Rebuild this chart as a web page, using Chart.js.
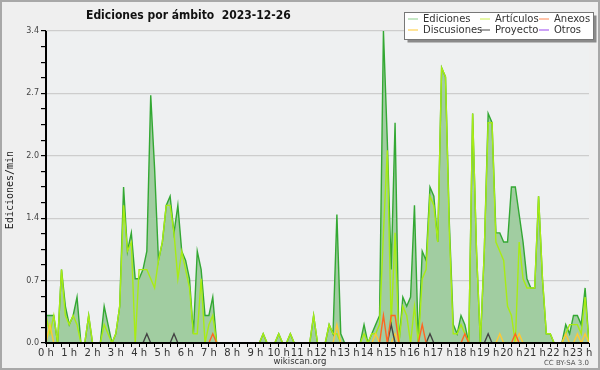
<!DOCTYPE html>
<html>
<head>
<meta charset="utf-8">
<script src="https://cdn.jsdelivr.net/npm/chart.js@4.4.1/dist/chart.umd.min.js"></script>
<style>
  html, body { margin: 0; padding: 0; background: #efefef; }
  canvas { display: block; }
</style>
</head>
<body>
<canvas id="chart" width="600" height="370"></canvas>
<script>
// Intervalos de 10 minutos, 00:00 -> 23:20 (141 puntos)
const ediciones = [
  0.3, 0.3, 0.3, 0, 0.8, 0.4, 0.2, 0.3, 0.5, 0, 0, 0.3,
  0, 0, 0, 0.4, 0.2, 0, 0.1, 0.4, 1.7, 1.0, 1.2, 0.7,
  0.7, 0.8, 1.0, 2.7, 1.9, 0.9, 1.1, 1.5, 1.6, 1.2, 1.5, 1.0,
  0.9, 0.7, 0.1, 1.0, 0.8, 0.3, 0.3, 0.5, 0, 0, 0, 0,
  0, 0, 0, 0, 0, 0, 0, 0, 0.1, 0, 0, 0,
  0.1, 0, 0, 0.1, 0, 0, 0, 0, 0, 0.3, 0, 0,
  0, 0.2, 0.1, 1.4, 0.1, 0, 0, 0, 0, 0, 0.2, 0,
  0.1, 0.2, 0.3, 3.4, 2.2, 0.8, 2.4, 0, 0.5, 0.4, 0.5, 1.5,
  0, 1.0, 0.9, 1.7, 1.6, 1.1, 3.0, 2.9, 1.3, 0.2, 0.1, 0.3,
  0.2, 0, 2.5, 1.0, 0, 1.0, 2.5, 2.4, 1.2, 1.2, 1.1, 1.1,
  1.7, 1.7, 1.4, 1.1, 0.7, 0.6, 0.6, 1.6, 0.7, 0.1, 0.1, 0,
  0, 0, 0.2, 0.1, 0.3, 0.3, 0.2, 0.6, 0
];

const articulos = [
  0.3, 0.1, 0.3, 0, 0.8, 0.3, 0.2, 0.3, 0.2, 0, 0, 0.3,
  0, 0, 0, 0.2, 0.1, 0, 0.1, 0.4, 1.5, 1.0, 1.1, 0,
  0.8, 0.8, 0.8, 0.7, 0.6, 0.9, 1.1, 1.5, 1.5, 1.2, 0.7, 1.0,
  0.8, 0.6, 0.1, 0.1, 0.7, 0, 0.2, 0.3, 0, 0, 0, 0,
  0, 0, 0, 0, 0, 0, 0, 0, 0.1, 0, 0, 0,
  0.1, 0, 0, 0.1, 0, 0, 0, 0, 0, 0.3, 0, 0,
  0, 0.2, 0.1, 0.1, 0, 0, 0, 0, 0, 0, 0.1, 0,
  0.1, 0.1, 0.2, 1.2, 2.1, 0.2, 1.2, 0, 0.4, 0.3, 0, 0.4,
  0, 0.7, 0.8, 1.6, 1.5, 1.1, 3.0, 2.9, 1.2, 0.1, 0.1, 0.2,
  0.1, 0, 2.5, 1.0, 0, 1.0, 2.4, 2.4, 1.1, 1.0, 0.9, 0.4,
  0.3, 0, 1.1, 0.7, 0.6, 0.6, 0.6, 1.6, 0.7, 0.1, 0.1, 0,
  0, 0, 0.1, 0.2, 0.2, 0.2, 0.1, 0.5, 0
];

const discusiones = [
  0, 0.2, 0, 0, 0, 0, 0, 0, 0, 0, 0, 0,
  0, 0, 0, 0, 0, 0, 0, 0, 0, 0, 0, 0,
  0, 0, 0, 0, 0, 0, 0, 0, 0, 0, 0, 0,
  0, 0, 0, 0, 0, 0, 0, 0, 0, 0, 0, 0,
  0, 0, 0, 0, 0, 0, 0, 0, 0, 0, 0, 0,
  0, 0, 0, 0, 0, 0, 0, 0, 0, 0, 0, 0,
  0, 0, 0, 0.2, 0, 0, 0, 0, 0, 0, 0, 0,
  0, 0.1, 0, 0, 0, 0, 0.1, 0, 0, 0, 0, 0,
  0, 0, 0, 0, 0, 0, 0, 0, 0, 0, 0, 0,
  0, 0, 0, 0, 0, 0, 0, 0, 0, 0.1, 0, 0,
  0, 0, 0.1, 0, 0, 0, 0, 0, 0, 0, 0, 0,
  0, 0, 0.1, 0, 0, 0.1, 0, 0.1, 0
];

const anexos = [
  0, 0, 0, 0, 0, 0, 0, 0, 0, 0, 0, 0,
  0, 0, 0, 0, 0, 0, 0, 0, 0, 0, 0, 0,
  0, 0, 0, 0, 0, 0, 0, 0, 0, 0, 0, 0,
  0, 0, 0, 0, 0, 0, 0, 0.1, 0, 0, 0, 0,
  0, 0, 0, 0, 0, 0, 0, 0, 0, 0, 0, 0,
  0, 0, 0, 0, 0, 0, 0, 0, 0, 0, 0, 0,
  0, 0, 0, 0, 0, 0, 0, 0, 0, 0, 0, 0,
  0, 0, 0, 0.3, 0, 0.3, 0.3, 0, 0, 0, 0, 0,
  0, 0.2, 0, 0, 0, 0, 0, 0, 0, 0, 0, 0,
  0.1, 0, 0, 0, 0, 0, 0, 0, 0, 0, 0, 0,
  0, 0.1, 0, 0, 0, 0, 0, 0, 0, 0, 0, 0,
  0, 0, 0, 0, 0, 0, 0, 0, 0
];

const proyecto = [
  0, 0, 0, 0, 0, 0, 0, 0, 0, 0, 0, 0,
  0, 0, 0, 0, 0, 0, 0, 0, 0, 0, 0, 0,
  0, 0, 0.1, 0, 0, 0, 0, 0, 0, 0.1, 0, 0,
  0, 0, 0, 0, 0, 0, 0, 0, 0, 0, 0, 0,
  0, 0, 0, 0, 0, 0, 0, 0, 0, 0, 0, 0,
  0, 0, 0, 0, 0, 0, 0, 0, 0, 0, 0, 0,
  0, 0, 0, 0, 0, 0, 0, 0, 0, 0, 0, 0,
  0, 0, 0, 0, 0, 0.2, 0, 0, 0, 0, 0, 0,
  0, 0, 0, 0.1, 0, 0, 0, 0, 0, 0, 0, 0,
  0, 0, 0, 0, 0, 0, 0.1, 0, 0, 0, 0, 0,
  0, 0, 0, 0, 0, 0, 0, 0, 0, 0, 0, 0,
  0, 0, 0, 0, 0, 0, 0, 0, 0
];

const otros = new Array(ediciones.length).fill(0);

// Ticks del eje Y: cada 0.17, etiqueta cada 0.68
const yMax = 3.4;
const yTickStep = 0.17;
const yLabelEvery = 4;

// Colores
const colors = {
  bg: '#efefef',
  plotBg: '#eef0f1',
  grid: '#cdcdcd',
  axis: '#000000',
  text: '#333333',
  edicionesLine: '#33a833',
  edicionesFill: '#a1cda1',
  edicionesLegend: '#8ccf8c',
  articulos: '#a8ec14',
  articulosLegend: '#ccf050',
  discusiones: '#ffc933',
  anexos: '#ff6622',
  anexosLegend: '#ff8855',
  proyecto: '#444444',
  otros: '#9944ee'
};

const toPoints = arr => arr.map((v, i) => ({ x: i, y: v }));

function lineSet(label, data, color, order) {
  return {
    label: label,
    data: toPoints(data),
    borderColor: color,
    backgroundColor: color,
    borderWidth: 1.4,
    pointRadius: 0,
    tension: 0,
    fill: false,
    order: order
  };
}

// Fondo del lienzo y del área de trazado
const backgroundPlugin = {
  id: 'bg',
  beforeDraw(chart) {
    const { ctx, chartArea: a } = chart;
    ctx.save();
    ctx.fillStyle = colors.bg;
    ctx.fillRect(0, 0, chart.width, chart.height);
    ctx.fillStyle = colors.plotBg;
    ctx.fillRect(a.left, a.top, a.right - a.left, a.bottom - a.top);
    ctx.restore();
  }
};

// Ejes, título, leyenda y pie
const decorPlugin = {
  id: 'decor',
  afterDatasetsDraw(chart) {
    const { ctx, chartArea: a } = chart;
    ctx.save();
    ctx.strokeStyle = colors.axis;
    ctx.lineWidth = 2;
    ctx.beginPath();
    ctx.moveTo(a.left, a.top);
    ctx.lineTo(a.left, a.bottom);
    ctx.lineTo(a.right, a.bottom);
    ctx.stroke();
    ctx.restore();
  },
  afterDraw(chart) {
    const ctx = chart.ctx;
    ctx.save();

    // borde exterior
    ctx.strokeStyle = '#a8a8a8';
    ctx.lineWidth = 2;
    ctx.strokeRect(1, 1, chart.width - 2, chart.height - 2);

    // título
    ctx.fillStyle = '#111';
    ctx.font = 'bold 12px "DejaVu Sans Condensed", "DejaVu Sans"';
    ctx.textAlign = 'left';
    ctx.textBaseline = 'alphabetic';
    ctx.fillText('Ediciones por ámbito  2023-12-26', 86, 18.5);

    // título del eje Y
    ctx.save();
    ctx.translate(13, 190);
    ctx.rotate(-Math.PI / 2);
    ctx.font = '10px "DejaVu Sans Mono"';
    ctx.textAlign = 'center';
    ctx.fillStyle = '#222';
    ctx.fillText('Ediciones/min', 0, 0);
    ctx.restore();

    // pie
    ctx.fillStyle = colors.text;
    ctx.font = '8.5px "DejaVu Sans"';
    ctx.textAlign = 'center';
    ctx.fillText('wikiscan.org', 300, 364);
    ctx.fillStyle = '#555';
    ctx.font = '7px "DejaVu Sans"';
    ctx.textAlign = 'right';
    ctx.fillText('CC BY-SA 3.0', 589, 365);

    // leyenda
    const bx = 404.5, by = 12.5, bw = 189, bh = 27;
    ctx.fillStyle = '#8a8a8a';
    ctx.fillRect(bx + 3, by + 3, bw, bh);
    ctx.fillStyle = '#ffffff';
    ctx.fillRect(bx, by, bw, bh);
    ctx.strokeStyle = '#777';
    ctx.lineWidth = 1;
    ctx.strokeRect(bx, by, bw, bh);

    const items = [
      ['Ediciones', colors.edicionesLegend, 408, 18.5],
      ['Artículos', colors.articulosLegend, 480, 18.5],
      ['Anexos', colors.anexosLegend, 539, 18.5],
      ['Discusiones', colors.discusiones, 408, 29.5],
      ['Proyecto', colors.proyecto, 480, 29.5],
      ['Otros', colors.otros, 539, 29.5]
    ];
    ctx.font = '10px "DejaVu Sans"';
    ctx.textAlign = 'left';
    ctx.textBaseline = 'middle';
    items.forEach(([name, col, x, y]) => {
      ctx.strokeStyle = col;
      ctx.lineWidth = 1;
      ctx.beginPath();
      ctx.moveTo(x, y + 0.5);
      ctx.lineTo(x + 10, y + 0.5);
      ctx.stroke();
      ctx.fillStyle = '#333';
      ctx.fillText(name, x + 15, y + 1);
    });

    ctx.restore();
  }
};

new Chart(document.getElementById('chart'), {
  type: 'line',
  data: {
    datasets: [
      {
        ...lineSet('Ediciones', ediciones, colors.edicionesLine, 6),
        backgroundColor: colors.edicionesFill,
        fill: 'origin'
      },
      lineSet('Artículos', articulos, colors.articulos, 5),
      lineSet('Discusiones', discusiones, colors.discusiones, 4),
      lineSet('Proyecto', proyecto, colors.proyecto, 3),
      lineSet('Anexos', anexos, colors.anexos, 2),
      lineSet('Otros', otros, colors.otros, 1)
    ]
  },
  options: {
    responsive: false,
    animation: false,
    devicePixelRatio: 1,
    layout: {
      padding: { top: 31, right: 11, left: 0, bottom: 0 }
    },
    plugins: {
      legend: { display: false },
      title: { display: false },
      tooltip: { enabled: false }
    },
    scales: {
      x: {
        type: 'linear',
        min: 0,
        max: ediciones.length - 1,
        afterBuildTicks(scale) {
          const ticks = [];
          for (let v = 0; v <= ediciones.length - 1; v += 2) ticks.push({ value: v });
          scale.ticks = ticks;
        },
        afterFit(scale) { scale.height = 27; },
        border: { display: false },
        grid: {
          drawOnChartArea: false,
          tickLength: 4,
          tickWidth: 1,
          tickColor: '#000'
        },
        ticks: {
          autoSkip: false,
          maxRotation: 0,
          padding: 0,
          color: colors.text,
          font: { family: 'DejaVu Sans', size: 10 },
          callback: v => (v % 6 === 0 ? (v / 6) + ' h' : '')
        }
      },
      y: {
        min: 0,
        max: yMax,
        afterBuildTicks(scale) {
          const ticks = [];
          const n = Math.round(yMax / yTickStep);
          for (let k = 0; k <= n; k++) ticks.push({ value: Math.round(k * yTickStep * 100) / 100 });
          scale.ticks = ticks;
        },
        afterFit(scale) { scale.width = 46; },
        border: { display: false },
        grid: {
          color: c => (c.index % yLabelEvery === 0 ? colors.grid : 'rgba(0,0,0,0)'),
          tickColor: '#000',
          tickLength: 5,
          lineWidth: 1.2
        },
        ticks: {
          autoSkip: false,
          padding: 2,
          color: '#444',
          font: { family: 'DejaVu Sans', size: 8 },
          callback: (v, i) => (i % yLabelEvery === 0 ? v.toFixed(1) : '')
        }
      }
    }
  },
  plugins: [backgroundPlugin, decorPlugin]
});
</script>
</body>
</html>
